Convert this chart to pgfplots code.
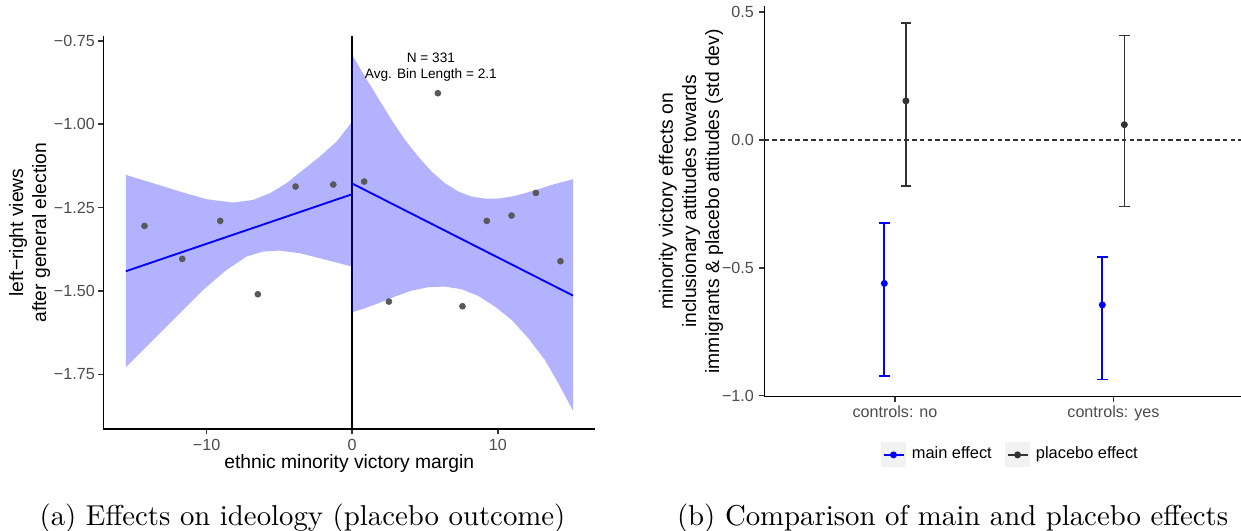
\documentclass[border=0pt]{standalone}
\usepackage{fontspec}
\usepackage{pgfplots}
\pgfplotsset{compat=1.18}
\newfontfamily\lib{Liberation Sans}
\definecolor{ptgrey}{rgb}{0.35,0.35,0.35}
\definecolor{ticklab}{rgb}{0.30,0.30,0.30}
\definecolor{plc}{rgb}{0.2,0.2,0.2}
\newcommand\tickfont{\lib\fontsize{5.6}{6.7}\selectfont}
\newcommand\titlefont{\lib\fontsize{6.7}{8}\selectfont}

\pgfplotstableread{
x y ep em
0.951 -0.561 0.235 0.362
1.949 -0.645 0.186 0.292
}\maintab
\pgfplotstableread{
x y ep em
1.050 0.153 0.305 0.332
2.050 0.060 0.349 0.320
}\placebotab

\begin{document}
\begin{tikzpicture}
\useasboundingbox (0,0) rectangle (431.2pt,184.5pt);
% ---------------- left panel ----------------
\begin{axis}[
  at={(35.89pt,35.34pt)}, anchor=south west,
  scale only axis, width=170.9pt, height=136.7pt,
  xmin=-17.09, xmax=16.68, ymin=-1.915, ymax=-0.735,
  axis x line=bottom, axis y line=left,
  axis line style={-, line width=0.55pt, black},
  tick align=outside, major tick length=1.74pt,
  tick style={line width=0.5pt, black!80},
  xtick={-10,0,10}, xticklabels={−10,0,10},
  ytick={-1.75,-1.5,-1.25,-1,-0.75},
  yticklabels={−1.75,−1.50,−1.25,−1.00,−0.75},
  ticklabel style={font=\tickfont, text=ticklab},
  yticklabel style={xshift=2.3pt},
  xticklabel style={yshift=1.8pt},
  clip=false,
]
% bins
\addplot[only marks, mark=*, mark size=0.95pt, ptgrey] coordinates {
(-14.26,-1.305) (-11.67,-1.404) (-9.06,-1.290) (-6.48,-1.510)
(-3.89,-1.187) (-1.30,-1.181) (0.82,-1.172) (2.52,-1.532)
(5.88,-0.907) (7.57,-1.546) (9.24,-1.290) (10.94,-1.274)
(12.61,-1.206) (14.30,-1.411)};
% cutoff line
\addplot[black, line width=0.5pt] coordinates {(0,-1.915) (0,-0.735)};
% confidence bands
\addplot[fill=blue, fill opacity=0.3, draw=none] coordinates {
(-15.54,-1.152) (-13.67,-1.177) (-11.83,-1.202) (-10.00,-1.225) (-8.17,-1.235)
(-6.80,-1.227) (-5.65,-1.207) (-4.51,-1.177) (-3.37,-1.137) (-2.22,-1.097)
(-1.07,-1.052) (0,-0.992)
(0,-1.427) (-1.07,-1.415) (-2.22,-1.402) (-3.59,-1.387) (-4.97,-1.379)
(-6.11,-1.382) (-7.25,-1.397) (-8.63,-1.437) (-10.23,-1.497) (-11.83,-1.567)
(-13.67,-1.647) (-15.54,-1.729)} -- cycle;
\addplot[fill=blue, fill opacity=0.3, draw=none] coordinates {
(0,-0.792) (0.87,-0.857) (1.79,-0.922) (2.70,-0.987) (3.62,-1.047) (4.53,-1.097)
(5.45,-1.142) (6.37,-1.177) (7.28,-1.202) (8.20,-1.217) (9.11,-1.223)
(10.03,-1.223) (10.95,-1.217) (11.86,-1.207) (12.78,-1.195) (13.70,-1.182)
(15.16,-1.165)
(15.16,-1.859) (14.15,-1.777) (13.23,-1.707) (12.09,-1.642) (10.95,-1.587)
(9.80,-1.547) (8.65,-1.515) (7.51,-1.495) (6.37,-1.487) (5.22,-1.489)
(4.08,-1.499) (2.93,-1.517) (1.79,-1.537) (0.87,-1.552) (0,-1.564)} -- cycle;
% fits
\addplot[blue, line width=0.65pt] coordinates {(-15.54,-1.441) (0,-1.210)};
\addplot[blue, line width=0.65pt] coordinates {(0,-1.178) (15.16,-1.514)};
% annotation
\node[font=\lib\fontsize{4.74}{5.6}\selectfont] at (axis cs:5.4,-0.802) {N = 331};
\node[font=\lib\fontsize{4.74}{5.6}\selectfont] at (axis cs:5.4,-0.852) {Avg. Bin Length = 2.1};
% labels
\node[font=\titlefont] at ([yshift=-11.8pt]axis description cs:0.5,0) {ethnic minority victory margin};
\node[font=\titlefont, rotate=90, align=center] at ([xshift=-25.6pt]axis description cs:0,0.5)
  {left−right views\\after general election};
\end{axis}
% ---------------- right panel ----------------
\begin{axis}[
  at={(265.6pt,46.66pt)}, anchor=south west,
  scale only axis, width=165.6pt, height=135.75pt,
  xmin=0.402, xmax=2.584, ymin=-1.004, ymax=0.524,
  axis x line=bottom, axis y line=left,
  axis line style={-, line width=0.55pt, black},
  tick align=outside, major tick length=1.74pt,
  tick style={line width=0.5pt, black!80},
  xtick={1,2}, xticklabels={controls: no,controls: yes},
  ytick={-1,-0.5,0,0.5},
  yticklabels={−1.0,−0.5,0.0,0.5},
  ticklabel style={font=\tickfont, text=ticklab},
  yticklabel style={xshift=1.6pt},
  xticklabel style={yshift=2.1pt},
  clip=false,
  legend style={at={(0.52,-0.149)}, anchor=center, draw=none, fill=none,
    legend columns=-1, font=\lib\fontsize{5.7}{6.8}\selectfont,
    /tikz/every even column/.append style={column sep=2.6pt}},
  legend cell align=left,
]
\addlegendimage{legend image code/.code={
  \fill[black!5] (0pt,-4.17pt) rectangle (8.34pt,4.17pt);
  \draw[blue, line width=0.6pt] (0.7pt,0pt) -- (7.64pt,0pt);
  \fill[blue] (4.17pt,0pt) circle (1.0pt);}}
\addlegendentry{main effect}
\addlegendimage{legend image code/.code={
  \fill[black!5] (0pt,-4.17pt) rectangle (8.34pt,4.17pt);
  \draw[plc, line width=0.6pt] (0.7pt,0pt) -- (7.64pt,0pt);
  \fill[plc] (4.17pt,0pt) circle (1.0pt);}}
\addlegendentry{placebo effect}
\addplot[black!80, dashed, line width=0.4pt, dash pattern=on 1.6pt off 1.1pt, forget plot]
  coordinates {(0.402,0) (2.584,0)};
\addplot[blue, only marks, mark=*, mark size=1.0pt, forget plot,
  error bars/.cd, y dir=both, y explicit,
  error bar style={blue, line width=0.6pt},
  error mark options={rotate=90, blue, mark size=1.85pt, line width=0.6pt}]
  table[x=x, y=y, y error plus=ep, y error minus=em] {\maintab};
\addplot[plc, only marks, mark=*, mark size=1.0pt, forget plot,
  error bars/.cd, y dir=both, y explicit,
  error bar style={plc, line width=0.6pt},
  error mark options={rotate=90, plc, mark size=1.85pt, line width=0.6pt}]
  table[x=x, y=y, y error plus=ep, y error minus=em] {\placebotab};
\node[font=\titlefont, rotate=90, align=center] at ([xshift=-25.5pt]axis description cs:0,0.5)
  {minority victory effects on\\inclusionary attitudes towards\\immigrants \& placebo attitudes (std dev)};
\end{axis}
% captions
\node[anchor=base, inner sep=0pt, font=\fontsize{10}{12}\selectfont] at (105.1pt,1.74pt) {(a) Effects on ideology (placebo outcome)};
\node[anchor=base, inner sep=0pt, font=\fontsize{10}{12}\selectfont] at (331.0pt,1.74pt) {(b) Comparison of main and placebo effects};
\end{tikzpicture}
\end{document}
